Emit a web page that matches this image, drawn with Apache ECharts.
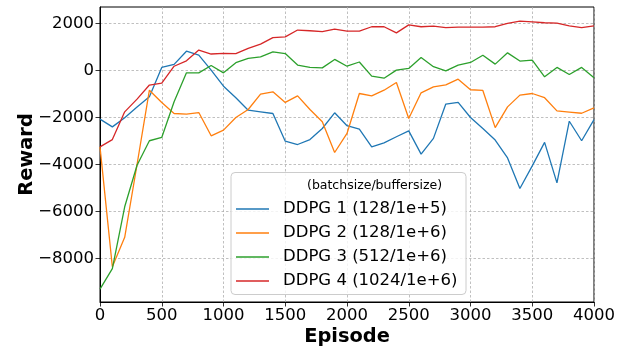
<!DOCTYPE html>
<html>
<head>
<meta charset="utf-8">
<script src="https://cdn.jsdelivr.net/npm/echarts@6/dist/echarts.min.js"></script>
<style>
  html, body { margin: 0; padding: 0; background: #fff; }
  #chart { width: 622px; height: 346px; }
</style>
</head>
<body>
<div id="chart"></div>
<script>
// Training episodes (x axis)
const episodes = [0, 100, 200, 300, 400, 500, 600, 700, 800, 900,
  1000, 1100, 1200, 1300, 1400, 1500, 1600, 1700, 1800, 1900,
  2000, 2100, 2200, 2300, 2400, 2500, 2600, 2700, 2800, 2900,
  3000, 3100, 3200, 3300, 3400, 3500, 3600, 3700, 3800, 3900, 4000];

// Reward per configuration
const ddpg1 = [-2070, -2400, -2010, -1550, -1120, 130, 260, 820, 650, 15,
  -670, -1160, -1690, -1760, -1830, -3010, -3150, -2940, -2470, -1800,
  -2350, -2500, -3250, -3080, -2820, -2570, -3560, -2890, -1430, -1360,
  -2000, -2470, -2960, -3720, -5020, -4060, -3060, -4780, -2160, -2990, -2090];
const ddpg2 = [-3250, -8350, -7100, -4000, -840, -1360, -1830, -1860, -1790, -2780,
  -2540, -2000, -1660, -1010, -910, -1360, -1080, -1660, -2180, -3490,
  -2680, -980, -1080, -840, -510, -2040, -950, -700, -610, -370,
  -820, -850, -2430, -1550, -1050, -980, -1160, -1720, -1770, -1820, -1590];
const ddpg3 = [-9300, -8430, -5800, -4030, -2990, -2850, -1330, -100, -100, 210,
  -100, 330, 510, 580, 790, 720, 230, 130, 110, 470,
  180, 360, -240, -330, 15, 85, 550, 160, -15, 230,
  340, 650, 270, 750, 400, 440, -270, 130, -170, 130, -310];
const ddpg4 = [-3250, -2940, -1760, -1220, -620, -540, 180, 410, 870, 700,
  730, 720, 940, 1120, 1400, 1430, 1720, 1690, 1650, 1760,
  1670, 1670, 1860, 1860, 1600, 1940, 1860, 1890, 1820, 1840,
  1840, 1840, 1860, 2000, 2100, 2070, 2030, 2010, 1900, 1820, 1900];

const seriesNames = ['DDPG 1 (128/1e+5)', 'DDPG 2 (128/1e+6)', 'DDPG 3 (512/1e+6)', 'DDPG 4 (1024/1e+6)'];
const seriesColors = ['#1f77b4', '#ff7f0e', '#2ca02c', '#d62728'];
const legendTitle = '(batchsize/buffersize)';

const yTicks = [-8000, -6000, -4000, -2000, 0, 2000];

const FONT = 'DejaVu Sans';
const allSeries = [ddpg1, ddpg2, ddpg3, ddpg4];

const chart = echarts.init(document.getElementById('chart'), null, { renderer: 'canvas' });

const gridDash = { color: '#b0b0b0', width: 0.8, type: [2.5, 2] };
const minusSign = v => String(v).replace('-', '\u2212');

chart.setOption({
  animation: false,
  backgroundColor: '#ffffff',
  grid: {
    left: 100, right: 28, top: 7, bottom: 44,
    containLabel: false,
    outerBoundsMode: 'none',
    show: true, borderColor: '#000', borderWidth: 1, backgroundColor: 'transparent'
  },
  xAxis: {
    type: 'value',
    min: 0, max: 4000, interval: 500,
    name: 'Episode',
    nameLocation: 'middle',
    nameGap: 25,
    nameMoveOverlap: false,
    nameTextStyle: { fontFamily: FONT, fontWeight: 'bold', fontSize: 19.4, color: '#000' },
    axisLine: { show: true, onZero: false, lineStyle: { color: '#000', width: 1 } },
    axisTick: { show: true, inside: false, length: 4.5, lineStyle: { color: '#000', width: 0.8 } },
    axisLabel: { fontFamily: FONT, fontSize: 16.5, color: '#000', margin: 5, formatter: minusSign },
    splitLine: { show: true, lineStyle: gridDash }
  },
  yAxis: {
    type: 'value',
    min: -9850, max: 2700,
    name: 'Reward',
    nameLocation: 'middle',
    nameGap: 64,
    nameRotate: 90,
    nameMoveOverlap: false,
    nameTextStyle: { fontFamily: FONT, fontWeight: 'bold', fontSize: 19.4, color: '#000' },
    axisLine: { show: true, onZero: false, lineStyle: { color: '#000', width: 1 } },
    axisTick: { show: true, inside: false, length: 4.5, customValues: yTicks,
      lineStyle: { color: '#000', width: 0.8 } },
    axisLabel: { fontFamily: FONT, fontSize: 16.5, color: '#000', margin: 6, customValues: yTicks,
      formatter: minusSign },
    splitLine: { show: true, lineStyle: gridDash }
  },
  legend: {
    orient: 'vertical',
    left: 236, top: 199,
    padding: 0,
    itemGap: 4,
    itemWidth: 33, itemHeight: 1.5,
    icon: 'rect',
    z: 20,
    textStyle: { fontFamily: FONT, fontSize: 16.5, color: '#000', lineHeight: 20, padding: [0, 0, 0, 9] },
    data: seriesNames
  },
  graphic: [
    {
      type: 'rect', z: 10,
      shape: { x: 231, y: 172.5, width: 235, height: 122, r: 4 },
      style: { fill: 'rgba(255,255,255,0.8)', stroke: '#cccccc', lineWidth: 1 }
    },
    {
      type: 'text', z: 11,
      style: { x: 307, y: 186, text: legendTitle, font: '12.5px "DejaVu Sans"',
        fill: '#000', verticalAlign: 'middle' }
    }
  ],
  series: allSeries.map((vals, k) => ({
    name: seriesNames[k],
    type: 'line',
    data: vals.map((v, i) => [episodes[i], v]),
    symbol: 'none',
    showSymbol: false,
    color: seriesColors[k],
    lineStyle: { color: seriesColors[k], width: 1.3 },
    z: 2 + k
  }))
});
</script>
</body>
</html>
